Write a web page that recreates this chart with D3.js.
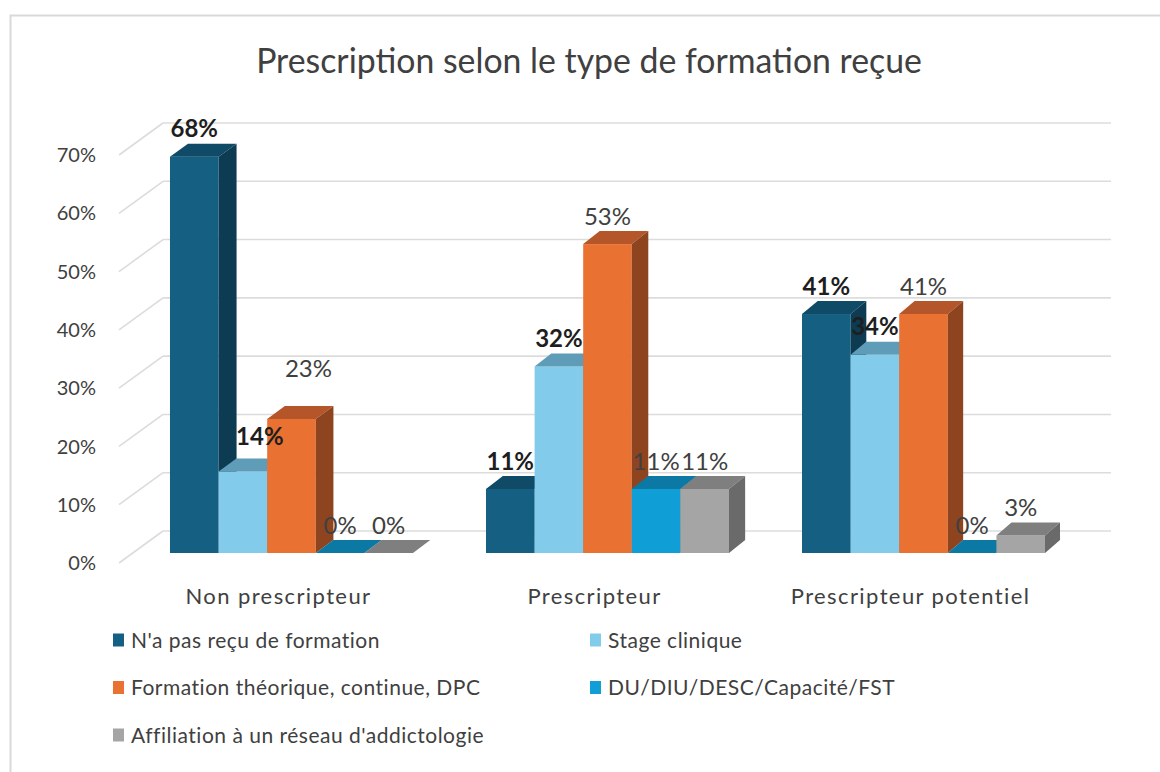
<!DOCTYPE html>
<html><head><meta charset="utf-8">
<script src="https://cdn.jsdelivr.net/npm/d3@7"></script>
<style>body{margin:0;background:#fff} svg{display:block}</style>
</head><body><svg id="c" width="1160" height="772"></svg>
<script>
// ---- data ----
const categories = ["Non prescripteur", "Prescripteur", "Prescripteur potentiel"];
const series = ["N'a pas reçu de formation", "Stage clinique", "Formation théorique, continue, DPC", "DU/DIU/DESC/Capacité/FST", "Affiliation à un réseau d'addictologie"];
const valuesNaPasRecu = [68, 11, 41];
const valuesStageClinique = [14, 32, 34];
const valuesFormationTheorique = [23, 53, 41];
const valuesDU = [0, 11, 0];
const valuesAffiliation = [0, 11, 3];
const yTicks = [0, 10, 20, 30, 40, 50, 60, 70];
const title = "Prescription selon le type de formation reçue";

const seriesValues = [valuesNaPasRecu, valuesStageClinique, valuesFormationTheorique, valuesDU, valuesAffiliation];
const frontColors = ["#156082", "#83cbeb", "#e97132", "#0f9ed5", "#a5a5a5"];
const topColors   = ["#0f4a66", "#5f9cb8", "#b5552a", "#0b79a3", "#7f7f7f"];
const sideColors  = ["#0c3b52", "#5a95b0", "#8f4420", "#0a6a90", "#6a6a6a"];
const boldSeries  = [true, true, false, false, false];

const FONT = "Lato, 'Open Sans', sans-serif";
const TXT = "#404040";

const svg = d3.select("#c");
// frame
svg.append("rect").attr("x", 10.5).attr("y", 15.5).attr("width", 1200).attr("height", 800)
  .attr("fill", "#fff").attr("stroke", "#d9d9d9").attr("stroke-width", 2);

// title
svg.append("text").attr("x", 589).attr("y", 73).attr("text-anchor", "middle")
  .attr("font-family", FONT).attr("font-size", 33.8).attr("fill", TXT).text(title);

// scales
const yWall = d3.scaleLinear().domain([0, 70]).range([531, 123]);
const frontShift = 22;                        // bars' front plane lies below the back wall
const yBar = v => yWall(v) + frontShift;
const x0 = d3.scaleBand().domain(categories).range([133, 1082]).paddingInner(0.231).paddingOuter(0.117);
const x1 = d3.scaleBand().domain(series).range([0, x0.bandwidth()]);
const depthY = -13;
const depthX = xr => 18 - (xr - 217) * 3 / 828;

// gridlines and wall diagonals
const grid = svg.append("g");
yTicks.forEach(t => {
  const y = yWall(t);
  grid.append("line").attr("x1", 163).attr("x2", 1111).attr("y1", y).attr("y2", y)
    .attr("stroke", "#dcdcdc").attr("stroke-width", 1.6);
  grid.append("line").attr("x1", 119).attr("y1", y + 32).attr("x2", 163).attr("y2", y)
    .attr("stroke", "#dcdcdc").attr("stroke-width", 1.6);
  grid.append("text").attr("x", 96).attr("y", y + 32).attr("dy", "0.36em").attr("text-anchor", "end")
    .attr("font-family", FONT).attr("font-size", 20).attr("fill", TXT).text(t + "%");
});

// bars
const bars = svg.append("g");
const labels = [];
categories.forEach((cat, ci) => {
  series.forEach((s, si) => {
    const v = seriesValues[si][ci];
    const xl = x0(cat) + x1(s), xr = xl + x1.bandwidth();
    const yt = yBar(v), yb = yBar(0);
    const dx = depthX(xr), dy = depthY;
    bars.append("rect").attr("x", xl).attr("y", yt).attr("width", x1.bandwidth()).attr("height", yb - yt)
      .attr("fill", frontColors[si]);
    bars.append("polygon").attr("points", [[xl, yt], [xr, yt], [xr + dx, yt + dy], [xl + dx, yt + dy]].join(" "))
      .attr("fill", topColors[si]);
    if (v > 0) bars.append("polygon").attr("points", [[xr, yt], [xr + dx, yt + dy], [xr + dx, yb + dy], [xr, yb]].join(" "))
      .attr("fill", sideColors[si]);
    labels.push({ x: (xl + xr) / 2, y: yt + dy - 15, v, si, ci });
  });
});

// data labels (two labels were moved by hand in the original)
const nudge = { "0-1": [17, -7], "0-2": [17, -23] };
svg.append("g").selectAll("text").data(labels).join("text")
  .attr("x", d => d.x + (nudge[d.ci + "-" + d.si] || [0, 0])[0])
  .attr("y", d => d.y + (nudge[d.ci + "-" + d.si] || [0, 0])[1])
  .attr("dy", "0.36em").attr("text-anchor", "middle")
  .attr("font-family", FONT).attr("font-size", 24)
  .attr("font-weight", d => boldSeries[d.si] ? 700 : 400)
  .attr("fill", d => boldSeries[d.si] ? "#1e1e1e" : TXT)
  .text(d => d.v + "%");

// category labels
svg.append("g").selectAll("text").data(categories).join("text")
  .attr("x", d => x0(d) + x0.bandwidth() / 2 - 13).attr("y", 596).attr("dy", "0.36em")
  .attr("text-anchor", "middle").attr("font-family", FONT).attr("font-size", 22)
  .attr("letter-spacing", 1.4).attr("fill", TXT)
  .text(d => d);

// legend
const legendPos = [[113, 640], [590, 640], [113, 687.5], [590, 687.5], [113, 735]];
const lg = svg.append("g").selectAll("g").data(series).join("g")
  .attr("transform", (d, i) => `translate(${legendPos[i][0]},${legendPos[i][1]})`);
lg.append("rect").attr("x", 0).attr("y", -6.5).attr("width", 11).attr("height", 13).attr("fill", (d, i) => frontColors[i]);
lg.append("text").attr("x", 18).attr("y", 0).attr("dy", "0.36em").attr("font-family", FONT)
  .attr("font-size", 21).attr("letter-spacing", 0.5).attr("fill", TXT).text(d => d);
</script>
</body></html>
